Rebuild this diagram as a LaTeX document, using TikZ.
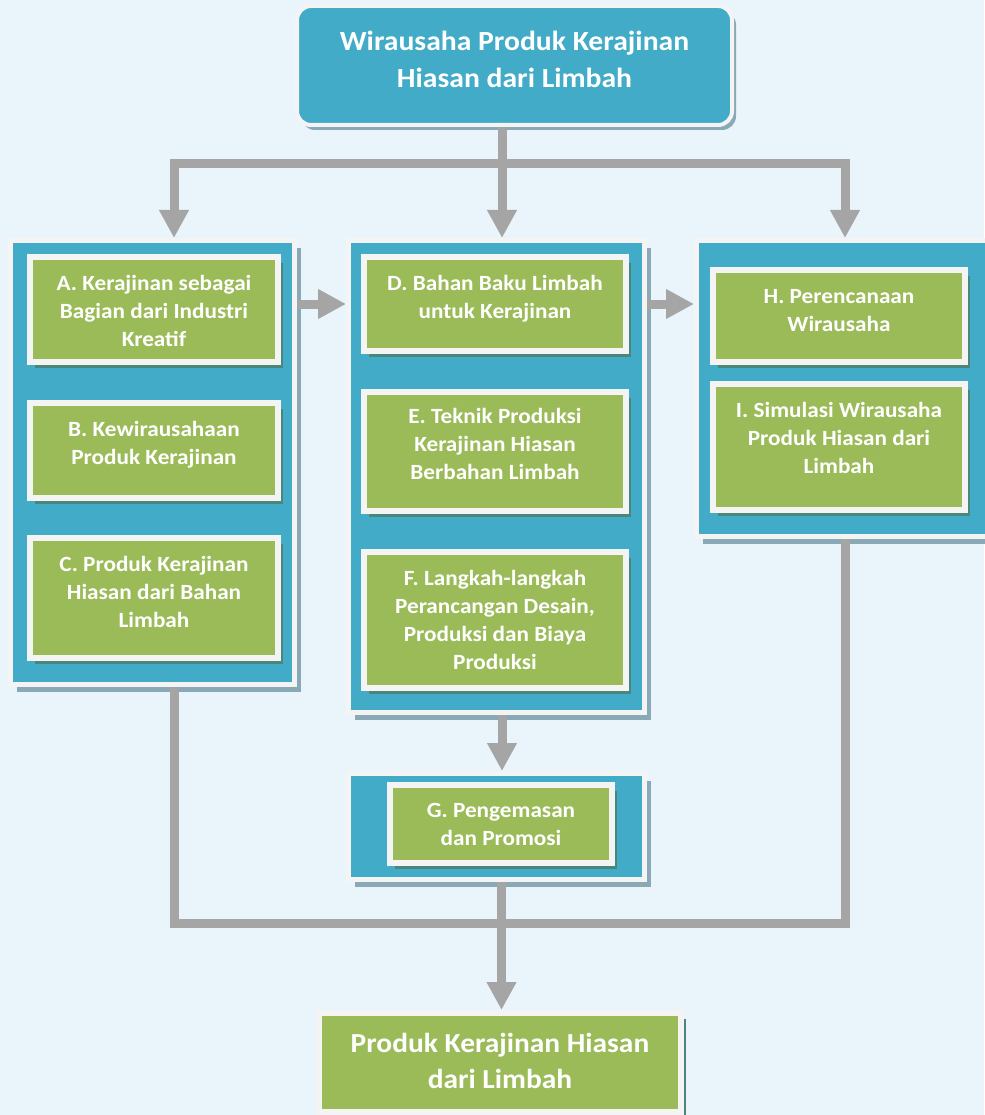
\documentclass[tikz,border=0pt]{standalone}
\usepackage{fontspec}
\setmainfont{Carlito}[FakeStretch=1.07]
\usetikzlibrary{arrows.meta, positioning, shadows}
\definecolor{latar}{RGB}{234,245,251}
\definecolor{tosca}{RGB}{66,171,199}
\definecolor{hijau}{RGB}{155,187,89}
\definecolor{putih}{RGB}{244,244,244}
\definecolor{abu}{RGB}{165,165,165}
\definecolor{bayang}{RGB}{74,135,122}
\definecolor{bayangluar}{RGB}{136,169,181}
\tikzset{>/.tip={Triangle[length=28pt,width=28pt]}}

\begin{document}
\begin{tikzpicture}[x=1pt, y=-1pt,
  panel/.style={draw=putih, fill=tosca, line width=5pt, inner sep=0pt,
    drop shadow={shadow xshift=6pt, shadow yshift=-7pt, fill=bayangluar, opacity=1}},
  kotak/.style={draw=putih, fill=hijau, line width=6pt, inner sep=0pt,
    drop shadow={shadow xshift=5pt, shadow yshift=-6pt, fill=bayang, opacity=1}},
  isi/.style={text=white, font=\bfseries\fontsize{21.7}{28}\selectfont, align=center, inner sep=0pt},
  garis/.style={draw=abu, line width=9pt},
  panah/.style={garis, ->}]
  \fill[latar] (0,0) rectangle (984,1115);
  \useasboundingbox (0,0) rectangle (984,1115);

  % judul
  \node(judul) [rounded corners=14pt, draw=putih, fill=tosca, line width=4pt,
    minimum width=435pt, minimum height=119pt,
    drop shadow={shadow xshift=4pt, shadow yshift=-5pt, fill=bayangluar, opacity=1}] at (514.5,65.5) {};
  \node [isi, font=\bfseries\fontsize{27.7}{37}\selectfont, below=27pt of judul.north]
    {Wirausaha Produk Kerajinan\\Hiasan dari Limbah};

  % kolom
  \node(colL) [panel, minimum width=284pt, minimum height=444pt] at (152.5,462.5) {};
  \node(colM) [panel, minimum width=296pt, minimum height=472pt] at (496.5,476.5) {};
  \node(colR) [panel, minimum width=306pt, minimum height=296pt] at (849.5,388.5) {};
  \node(colG) [panel, minimum width=296pt, minimum height=106pt] at (496.5,826.5) {};

  % materi
  \node(kA) [kotak, minimum width=248pt, minimum height=105pt] at (154,309.5) {};
  \node(kB) [kotak, minimum width=248pt, minimum height=95pt] at (154,450.5) {};
  \node(kC) [kotak, minimum width=248pt, minimum height=120pt] at (154,598) {};
  \node(kD) [kotak, minimum width=262pt, minimum height=94pt] at (495,304) {};
  \node(kE) [kotak, minimum width=262pt, minimum height=119pt] at (495,451.5) {};
  \node(kF) [kotak, minimum width=262pt, minimum height=136pt] at (495,620) {};
  \node(kG) [kotak, minimum width=222pt, minimum height=78pt] at (501,824) {};
  \node(kH) [kotak, minimum width=252pt, minimum height=92pt] at (839,316) {};
  \node(kI) [kotak, minimum width=252pt, minimum height=126pt] at (839,447) {};
  \node(hasil) [kotak, minimum width=362pt, minimum height=99pt] at (500,1062.5) {};

  \node [isi, below=21.5pt of kA.north] {A. Kerajinan sebagai\\Bagian dari Industri\\Kreatif};
  \node [isi, below=21.5pt of kB.north] {B. Kewirausahaan\\Produk Kerajinan};
  \node [isi, below=21.5pt of kC.north] {C. Produk Kerajinan\\Hiasan dari Bahan\\Limbah};
  \node [isi, below=21.5pt of kD.north] {D. Bahan Baku Limbah\\untuk Kerajinan};
  \node [isi, below=19.5pt of kE.north] {E. Teknik Produksi\\Kerajinan Hiasan\\Berbahan Limbah};
  \node [isi, below=21.5pt of kF.north] {F. Langkah-langkah\\Perancangan Desain,\\Produksi dan Biaya\\Produksi};
  \node [isi, below=21.5pt of kG.north] {G. Pengemasan\\dan Promosi};
  \node [isi, below=22pt of kH.north] {H. Perencanaan\\Wirausaha};
  \node [isi, below=21pt of kI.north] {I. Simulasi Wirausaha\\Produk Hiasan dari\\Limbah};
  \node [isi, font=\bfseries\fontsize{27.5}{36}\selectfont, below=23pt of hasil.north]
    {Produk Kerajinan Hiasan\\dari Limbah};

  % alur
  \coordinate(cab) at (502,163.5);
  \coordinate(kiri) at (174,238);
  \coordinate(tengah) at (502,238);
  \coordinate(kanan) at (845,238);
  \coordinate(temu) at (501.5,923);
  \draw[panah] (cab |- judul.south) -- (tengah);
  \draw[panah] (cab) -| (kiri);
  \draw[panah] (cab) -| (kanan);
  \draw[panah] (colL.east |- kD) -- (colM.west |- kD);
  \draw[panah] (colM.east |- kD) -- (colR.west |- kD);
  \draw[panah] (colM.south -| cab) -- (colG.north -| cab);
  \draw[garis] (colL.south -| kiri) |- (temu);
  \draw[garis] (colR.south -| kanan) |- (temu);
  \draw[panah] (colG.south -| temu) -- (hasil.north -| temu);
\end{tikzpicture}
\end{document}
